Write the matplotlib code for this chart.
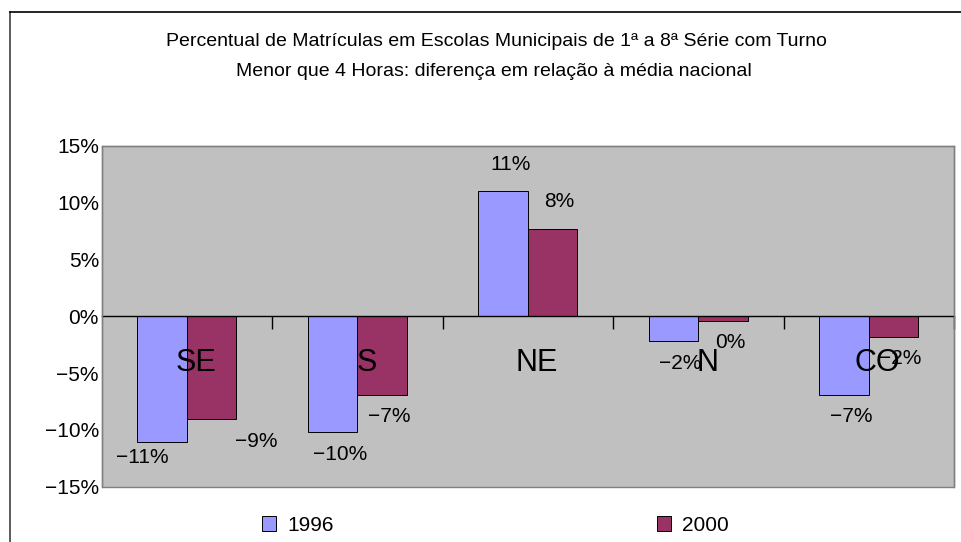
import matplotlib
matplotlib.use("Agg")
import matplotlib.pyplot as plt
from matplotlib.patches import Patch, Rectangle
from matplotlib.lines import Line2D
from matplotlib.ticker import FuncFormatter, FixedLocator
from matplotlib.transforms import offset_copy
import numpy as np

plt.rcParams['font.family'] = ['Liberation Sans', 'DejaVu Sans']

# ---- data ----
regions = ["SE", "S", "NE", "N", "CO"]
series_names = ["1996", "2000"]
values_1996 = [-11.1, -10.2, 11.0, -2.2, -6.9]
values_2000 = [-9.0, -6.9, 7.7, -0.4, -1.8]
y_ticks = [-15, -10, -5, 0, 5, 10, 15]
title_lines = ["Percentual de Matrículas em Escolas Municipais de 1ª a 8ª Série com Turno",
               "Menor que 4 Horas: diferença em relação à média nacional"]

c1996 = "#9999FF"
c2000 = "#993366"

W, H = 961, 542
fig = plt.figure(figsize=(W / 100, H / 100), dpi=100)

# outer chart frame (left and top edges visible)
fig.add_artist(Line2D([10 / W, 10 / W], [0, 1 - 12 / H], transform=fig.transFigure,
                      color="#404040", lw=1.2))
fig.add_artist(Line2D([10 / W, 1.0], [1 - 12 / H, 1 - 12 / H], transform=fig.transFigure,
                      color="black", lw=1.2))

left, right = 101.7 / W, 954 / W
top, bottom = 1 - 145.7 / H, 1 - 486.7 / H
ax = fig.add_axes([left, bottom, right - left, top - bottom])
ax.set_facecolor("#C0C0C0")

x = np.arange(len(regions))
bw = 0.29
b1 = ax.bar(x - bw / 2, values_1996, width=bw, color=c1996, edgecolor="black", linewidth=0.7,
            label=series_names[0], zorder=3)
b2 = ax.bar(x + bw / 2, values_2000, width=bw, color=c2000, edgecolor="black", linewidth=0.7,
            label=series_names[1], zorder=3)

ax.set_xlim(-0.5, len(regions) - 0.5)
ax.set_ylim(-15, 15)

# spines
for s in ["top", "left", "right"]:
    ax.spines[s].set_color("#808080")
    ax.spines[s].set_linewidth(1.0)
ax.spines["bottom"].set_position(("data", 0))
ax.spines["bottom"].set_color("black")
ax.spines["bottom"].set_linewidth(1.0)
ax.spines["bottom"].set_zorder(4)
ax.add_patch(Rectangle((0, 0), 1, 1, transform=ax.transAxes, fill=False,
                       edgecolor="#808080", linewidth=1.0, zorder=5, clip_on=False))

ax.xaxis.set_major_locator(FixedLocator(list(np.arange(len(regions)) + 0.5)))
ax.tick_params(axis="x", direction="out", length=9, width=1.0, color="black", labelbottom=False)

ax.yaxis.set_major_locator(FixedLocator(y_ticks))
ax.yaxis.set_major_formatter(FuncFormatter(lambda v, p: f"{int(v)}%".replace("-", "\u2212")))
ax.tick_params(axis="y", length=0, pad=2, labelsize=15)

# category labels inside plot area (slightly right of centre, as in the original)
cat_tr = offset_copy(ax.get_xaxis_transform(), fig=fig, x=9, y=0, units="dots")
for xi, name in zip(x, regions):
    ax.text(xi, 0.363, name, transform=cat_tr, ha="center", va="center",
            fontsize=22, zorder=6)

def fmt(v):
    return f"{int(round(v))}%".replace("-", "\u2212")

# data labels
for i, (bars, vals) in enumerate([(b1, values_1996), (b2, values_2000)]):
    for j, (bar, v) in enumerate(zip(bars, vals)):
        cx = bar.get_x() + bar.get_width() / 2
        dx, dy = 7, (27 if v > 0 else -22)
        if regions[j] == "SE":
            dx, dy = (-20, -15) if i == 0 else (45, -23)
        ax.annotate(fmt(v), xy=(cx, v), xytext=(dx, dy), textcoords="offset pixels",
                    ha="center", va="center", fontsize=15, zorder=6, annotation_clip=False)

# title
fig.text(496 / W, 1 - 41 / H, title_lines[0], ha="center", va="center", fontsize=14)
fig.text(494 / W, 1 - 72 / H, title_lines[1], ha="center", va="center", fontsize=14)

# legend
handles = [Patch(facecolor=c1996, edgecolor="black", linewidth=0.7),
           Patch(facecolor=c2000, edgecolor="black", linewidth=0.7)]
fig.legend(handles, series_names, loc="center left", bbox_to_anchor=(262 / W, 1 - 525.5 / H),
           ncol=2, frameon=False, fontsize=15, handlelength=0.67, handleheight=0.7,
           handletextpad=0.55, columnspacing=15.5, borderpad=0, borderaxespad=0)

fig.savefig("out.png", dpi=100)
